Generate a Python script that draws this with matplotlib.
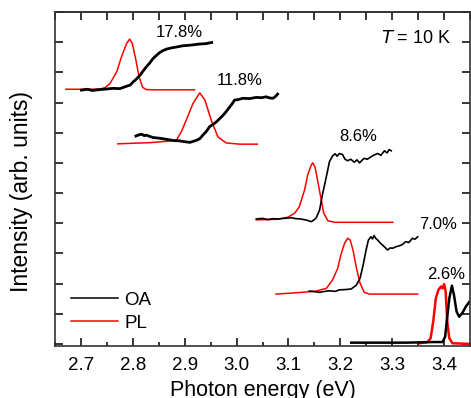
import matplotlib
matplotlib.use("Agg")
import matplotlib.pyplot as plt
from matplotlib.ticker import MultipleLocator, NullFormatter

plt.rcParams['font.family'] = ['Liberation Sans', 'DejaVu Sans']

# spectra: energy (eV) and offset intensity (arb. units)
# 17.8 %
oa1_e = [2.701, 2.712, 2.722, 2.737, 2.750, 2.762, 2.775, 2.788, 2.795, 2.801, 2.807, 2.814,
         2.820, 2.826, 2.833, 2.839, 2.846, 2.852, 2.858, 2.865, 2.874, 2.884, 2.896, 2.910,
         2.920, 2.929, 2.940, 2.952]
oa1_i = [8.41, 8.44, 8.40, 8.43, 8.45, 8.47, 8.46, 8.54, 8.58, 8.69, 8.78, 8.91,
         9.05, 9.18, 9.32, 9.46, 9.57, 9.66, 9.72, 9.77, 9.81, 9.84, 9.88, 9.90,
         9.92, 9.94, 9.95, 9.99]
pl1_e = [2.671, 2.700, 2.720, 2.737, 2.746, 2.756, 2.769, 2.778, 2.788, 2.794, 2.799, 2.806,
         2.812, 2.819, 2.826, 2.840, 2.880, 2.919]
pl1_i = [8.44, 8.44, 8.44, 8.45, 8.49, 8.63, 9.02, 9.51, 9.96, 10.10, 9.96, 9.40,
         8.85, 8.50, 8.43, 8.42, 8.42, 8.42]

# 11.8 %
oa2_e = [2.806, 2.812, 2.817, 2.822, 2.826, 2.832, 2.839, 2.850, 2.865, 2.878, 2.890, 2.900,
         2.910, 2.916, 2.923, 2.929, 2.935, 2.942, 2.948, 2.955, 2.961, 2.967, 2.974, 2.980,
         2.987, 2.992, 2.996, 3.004, 3.012, 3.025, 3.038, 3.048, 3.057, 3.064, 3.070, 3.075, 3.079]
oa2_i = [6.89, 6.93, 6.95, 6.90, 6.92, 6.88, 6.84, 6.82, 6.78, 6.74, 6.73, 6.70,
         6.68, 6.71, 6.75, 6.80, 6.92, 7.05, 7.20, 7.28, 7.36, 7.46, 7.58, 7.70,
         7.86, 7.97, 8.08, 8.10, 8.14, 8.13, 8.17, 8.16, 8.19, 8.15, 8.14, 8.20, 8.28]
pl2_e = [2.771, 2.800, 2.833, 2.862, 2.884, 2.894, 2.903, 2.916, 2.929, 2.939, 2.945, 2.951,
         2.964, 2.980, 3.006, 3.040]
pl2_i = [6.63, 6.65, 6.67, 6.71, 6.75, 7.05, 7.42, 7.97, 8.32, 8.08, 7.75, 7.42,
         6.86, 6.66, 6.62, 6.62]

# 8.6 %
oa3_e = [3.038, 3.050, 3.060, 3.070, 3.079, 3.092, 3.105, 3.115, 3.124, 3.135, 3.144, 3.153,
         3.160, 3.166, 3.173, 3.179, 3.185, 3.190, 3.194, 3.198, 3.204, 3.209, 3.214, 3.220,
         3.227, 3.232, 3.237, 3.242, 3.246, 3.252, 3.259, 3.265, 3.272, 3.278, 3.285, 3.290,
         3.294, 3.298]
oa3_i = [4.14, 4.16, 4.12, 4.15, 4.14, 4.16, 4.18, 4.15, 4.14, 4.10, 4.05, 4.16,
         4.44, 4.99, 5.54, 6.04, 6.23, 6.30, 6.22, 6.31, 6.28, 6.12, 6.07, 6.12,
         6.02, 6.10, 6.00, 6.09, 6.15, 6.12, 6.20, 6.26, 6.31, 6.25, 6.40, 6.33, 6.44, 6.40]
pl3_e = [3.038, 3.079, 3.099, 3.112, 3.121, 3.131, 3.137, 3.144, 3.147, 3.151, 3.156, 3.162,
         3.168, 3.176, 3.189, 3.301]
pl3_i = [4.11, 4.13, 4.20, 4.33, 4.55, 5.10, 5.60, 5.93, 6.00, 5.87, 5.43, 4.88,
         4.33, 4.08, 4.03, 4.03]

# 7.0 %
oa4_e = [3.140, 3.150, 3.160, 3.170, 3.179, 3.190, 3.198, 3.210, 3.221, 3.231, 3.238, 3.244,
         3.249, 3.254, 3.259, 3.262, 3.265, 3.268, 3.272, 3.276, 3.281, 3.286, 3.291, 3.296,
         3.301, 3.307, 3.314, 3.320, 3.326, 3.332, 3.339, 3.344, 3.349]
oa4_i = [1.75, 1.73, 1.71, 1.74, 1.76, 1.74, 1.79, 1.80, 1.82, 1.95, 2.18, 2.62,
         3.06, 3.44, 3.55, 3.48, 3.59, 3.50, 3.44, 3.36, 3.28, 3.20, 3.11, 3.18,
         3.17, 3.22, 3.25, 3.30, 3.39, 3.36, 3.50, 3.47, 3.55]
pl4_e = [3.076, 3.102, 3.128, 3.153, 3.173, 3.185, 3.195, 3.201, 3.208, 3.214, 3.219, 3.225,
         3.231, 3.238, 3.246, 3.256, 3.349]
pl4_i = [1.65, 1.68, 1.71, 1.75, 1.84, 2.12, 2.51, 2.95, 3.33, 3.50, 3.44, 3.06,
         2.51, 2.01, 1.71, 1.65, 1.65]

# 2.6 %
oa5_e = [3.221, 3.262, 3.326, 3.378, 3.397, 3.402, 3.405, 3.410, 3.415, 3.419, 3.424, 3.429,
         3.435, 3.442, 3.449]
oa5_i = [0.04, 0.04, 0.04, 0.06, 0.06, 0.24, 0.74, 1.51, 1.93, 1.62, 1.07, 0.90,
         1.02, 1.24, 1.40]
pl5_e = [3.352, 3.368, 3.374, 3.379, 3.384, 3.389, 3.394, 3.397, 3.400, 3.403, 3.406, 3.410,
         3.416, 3.449]
pl5_i = [0.02, 0.06, 0.19, 0.74, 1.51, 1.79, 1.90, 1.84, 1.98, 1.73, 0.74, 0.19,
         0.02, 0.00]

labels = ['17.8%', '11.8%', '8.6%', '7.0%', '2.6%']
label_e = [2.890, 3.005, 3.235, 3.389, 3.403]
label_i = [10.33, 8.74, 6.89, 3.97, 2.31]

fig = plt.figure(figsize=(4.71, 3.98), dpi=100)
ax = fig.add_axes([0.1168, 0.1307, 0.8812, 0.8391])

red = '#ff0000'
ax.plot(pl1_e, pl1_i, color=red, lw=1.1)
ax.plot(oa1_e, oa1_i, color='black', lw=2.0)
ax.plot(pl2_e, pl2_i, color=red, lw=1.1)
ax.plot(oa2_e, oa2_i, color='black', lw=2.0)
ax.plot(pl3_e, pl3_i, color=red, lw=1.1)
ax.plot(oa3_e, oa3_i, color='black', lw=1.2)
ax.plot(pl4_e, pl4_i, color=red, lw=1.1)
ax.plot(oa4_e, oa4_i, color='black', lw=1.2)
ax.plot(pl5_e, pl5_i, color=red, lw=1.8)
ax.plot(oa5_e, oa5_i, color='black', lw=1.8)

for t, e, i in zip(labels, label_e, label_i):
    ax.text(e, i, t, fontsize=12, ha='center', va='center')

ax.text(3.346, 10.12, r'$\mathit{T}$ = 10 K', fontsize=13, ha='center', va='center')

# legend handles
l_oa, = ax.plot([], [], color='black', lw=1.1, label='OA')
l_pl, = ax.plot([], [], color=red, lw=1.1, label='PL')
ax.legend(handles=[l_oa, l_pl], loc='lower left', bbox_to_anchor=(0.02, 0.02),
          frameon=False, fontsize=13.5, handlelength=2.5, handletextpad=0.35,
          labelspacing=0.3, borderaxespad=0)

ax.set_xlim(2.65, 3.45)
ax.set_ylim(-0.07, 11.0)
ax.xaxis.set_major_locator(MultipleLocator(0.1))
ax.xaxis.set_minor_locator(MultipleLocator(0.05))
ax.yaxis.set_major_locator(MultipleLocator(1))
ax.yaxis.set_major_formatter(NullFormatter())
ax.tick_params(axis='x', which='major', direction='in', length=5.5, width=1.1,
               labelsize=13.5, pad=8, bottom=True, top=False)
ax.tick_params(axis='x', which='minor', direction='in', length=3, width=1.1, top=False)
ax.tick_params(axis='y', which='major', direction='in', length=6, width=1.1,
               left=True, right=True)

top = ax.secondary_xaxis('top')
top.xaxis.set_major_locator(MultipleLocator(0.05))
top.xaxis.set_major_formatter(NullFormatter())
top.tick_params(direction='in', length=6, width=1.1)

for s in list(ax.spines.values()) + list(top.spines.values()):
    s.set_linewidth(1.2)
    s.set_color('#333333')

ax.set_xlabel('Photon energy (eV)', fontsize=15.5, labelpad=4)
ax.set_ylabel('Intensity (arb. units)', fontsize=16.5)
ax.yaxis.set_label_coords(-0.053, 0.463)

plt.savefig('out.png', dpi=100)
